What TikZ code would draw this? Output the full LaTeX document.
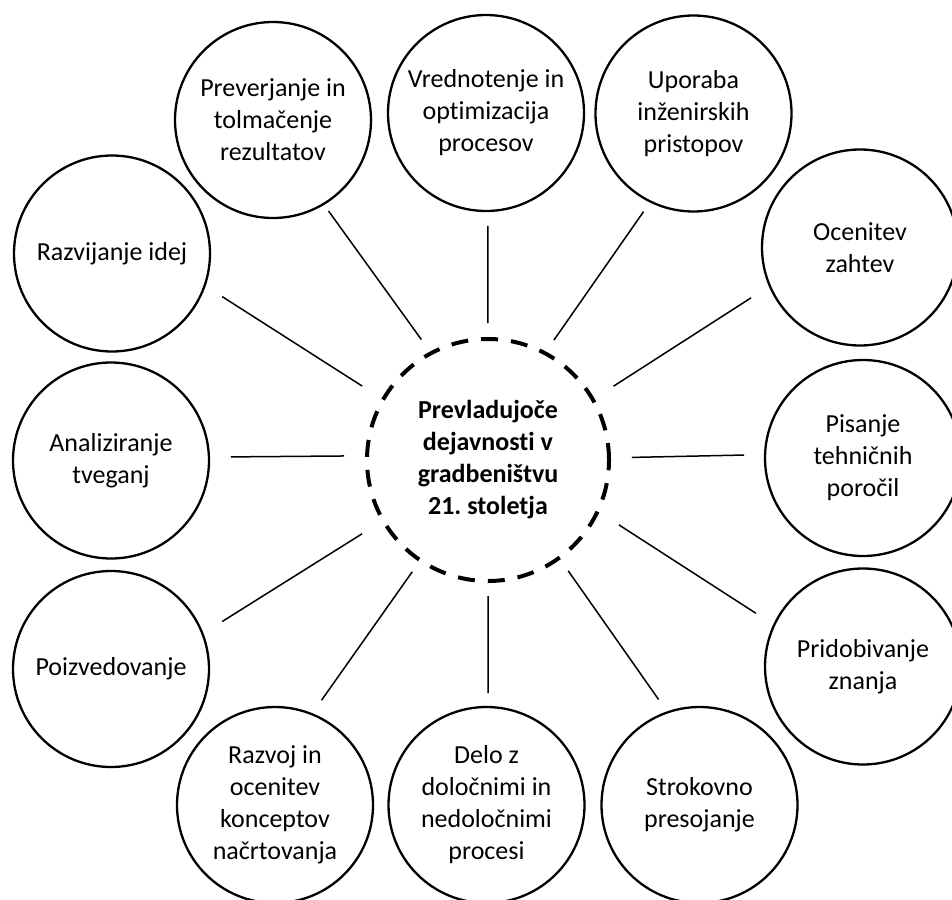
\documentclass[tikz,border=0pt]{standalone}
\usepackage{fontspec}
\setmainfont[RawFeature=-liga]{Carlito}
\frenchspacing
\begin{document}
\begin{tikzpicture}[x=1pt,y=-1pt,
  activity/.style={circle,draw,line width=2.3pt,minimum size=196pt,inner sep=0pt,outer sep=0pt,
    align=center,font=\fontsize{26}{32}\selectfont},
  hub/.style={circle,draw,line width=4pt,dash pattern=on 17pt off 13pt,minimum size=242pt,
    inner sep=0pt,outer sep=0pt,align=center,font=\fontsize{26}{32}\selectfont\bfseries},
  link/.style={line width=1.5pt}]
\useasboundingbox (0,0) rectangle (952,899);

% central topic
\node[hub] (c) at (488,460) {Prevladujoče\\dejavnosti v\\gradbeništvu\\21. stoletja};

% surrounding activities
\node[activity] (a1)  at (273,120)   {Preverjanje in\\tolmačenje\\rezultatov};
\node[activity] (a2)  at (486,113)   {Vrednotenje in\\optimizacija\\procesov};
\node[activity] (a3)  at (693.5,113.5) {Uporaba\\inženirskih\\pristopov};
\node[activity] (a4)  at (860,247.5) {Ocenitev\\zahtev};
\node[activity] (a5)  at (863,458)   {Pisanje\\tehničnih\\poročil};
\node[activity] (a6)  at (863,666.5) {Pridobivanje\\znanja};
\node[activity] (a7)  at (699.5,805) {Strokovno\\presojanje};
\node[activity] (a8)  at (486.5,805) {Delo z\\določnimi in\\nedoločnimi\\procesi};
\node[activity] (a9)  at (275,805)   {Razvoj in\\ocenitev\\konceptov\\načrtovanja};
\node[activity] (a10) at (111,669)   {Poizvedovanje};
\node[activity] (a11) at (111,460.5) {Analiziranje\\tveganj};
\node[activity] (a12) at (112,253.5) {Razvijanje idej};

% spokes, each leaving a gap at both circles
\draw[link,shorten <=8.7pt,shorten >=16.8pt]  (a1.-59.6)  -- (c.118.6);
\draw[link,shorten <=15pt,shorten >=16pt]     (a2.-89.7)  -- (c.90.7);
\draw[link,shorten <=12.2pt,shorten >=15.9pt] (a3.-116.7) -- (c.62.1);
\draw[link,shorten <=22.3pt,shorten >=24.6pt] (a4.-157.3) -- (c.30.1);
\draw[link,shorten <=21pt,shorten >=23pt]     (a5.178.8)  -- (c.1.9);
\draw[link,shorten <=21.7pt,shorten >=25.3pt] (a6.155.6)  -- (c.-25.5);
\draw[link,shorten <=15.7pt,shorten >=15.8pt] (a7.109.8)  -- (c.-54.2);
\draw[link,shorten <=14pt,shorten >=15pt]     (a8.89.7)   -- (c.-90.7);
\draw[link,shorten <=17pt,shorten >=14pt]     (a9.68.6)   -- (c.-124.7);
\draw[link,shorten <=23.3pt,shorten >=25pt]   (a10.21.3)  -- (c.-150.4);
\draw[link,shorten <=22pt,shorten >=23pt]     (a11.2.1)   -- (c.178.4);
\draw[link,shorten <=20.8pt,shorten >=25pt]   (a12.-19.4) -- (c.150.4);
\end{tikzpicture}
\end{document}
